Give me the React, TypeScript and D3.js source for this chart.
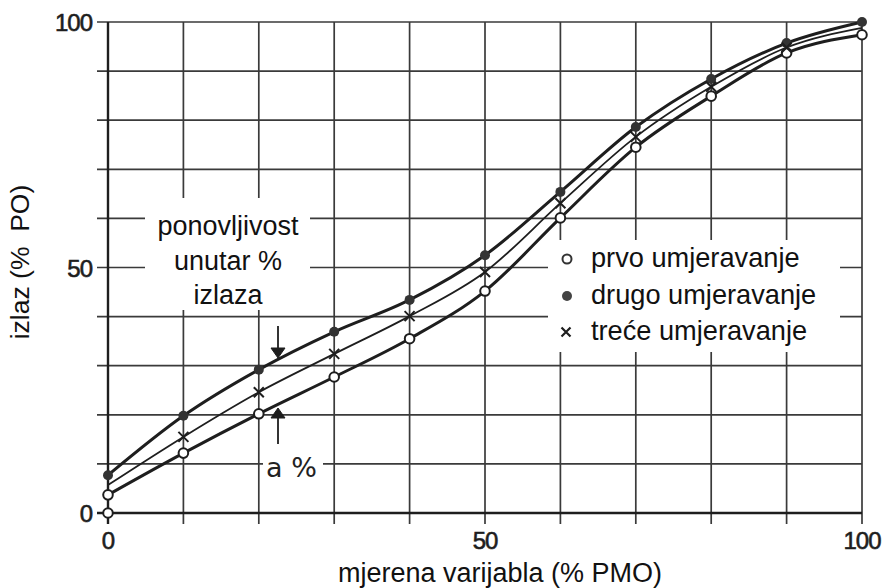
import React, { useEffect, useRef } from "react";
import * as d3 from "d3";

// measurement points (% PMO)
const xs = [0, 10, 20, 30, 40, 50, 60, 70, 80, 90, 100];
// izlaz (% PO) for each calibration run
const prvo = [3.7, 12.2, 20.2, 27.7, 35.5, 45.2, 60.1, 74.5, 84.9, 93.7, 97.4];
const drugo = [7.7, 19.8, 29.2, 36.9, 43.4, 52.5, 65.4, 78.6, 88.4, 95.7, 100];
const trece = [5.7, 15.5, 24.6, 32.4, 40.1, 49.1, 63.1, 76.6, 86.8, 94.8, 98.8];

const gridTicks = [0, 10, 20, 30, 40, 50, 60, 70, 80, 90, 100];
const labelTicks = [0, 50, 100];
const legendLabels = ["prvo umjeravanje", "drugo umjeravanje", "treće umjeravanje"];
const noteLines = ["ponovljivost", "unutar %", "izlaza"];

const FONT = "'Liberation Sans', Arial, sans-serif";
const INK = "#1e1e1e";

export default function App() {
  const ref = useRef<SVGSVGElement | null>(null);

  useEffect(() => {
    const node = ref.current;
    if (!node) return;
    const w = 886;
    const h = 588;
    const svg = d3.select(node);
    svg.attr("viewBox", `0 0 ${w} ${h}`).selectAll("*").remove();

    const x = d3.scaleLinear().domain([0, 100]).range([108, 862]);
    const y = d3.scaleLinear().domain([0, 100]).range([513, 22]);

    svg.append("rect").attr("width", w).attr("height", h).attr("fill", "#fff");

    // grid (lines poke out a bit past the frame, like tick marks)
    const grid = svg.append("g").attr("stroke", "#3a3a3a").attr("stroke-width", 1.7);
    grid.selectAll("line.v")
      .data(gridTicks)
      .enter()
      .append("line")
      .attr("class", "v")
      .attr("x1", d => x(d))
      .attr("x2", d => x(d))
      .attr("y1", y(100))
      .attr("y2", y(0) + 11);
    grid.selectAll("line.h")
      .data(gridTicks)
      .enter()
      .append("line")
      .attr("class", "h")
      .attr("x1", x(0) - 11)
      .attr("x2", x(100))
      .attr("y1", d => y(d))
      .attr("y2", d => y(d));

    // heavier frame on left and bottom
    svg.append("line")
      .attr("x1", x(0)).attr("x2", x(0)).attr("y1", y(100)).attr("y2", y(0) + 11)
      .attr("stroke", INK).attr("stroke-width", 2.4);
    svg.append("line")
      .attr("x1", x(0) - 11).attr("x2", x(100)).attr("y1", y(0)).attr("y2", y(0))
      .attr("stroke", INK).attr("stroke-width", 2.6);

    // white patches behind texts
    svg.append("rect").attr("x", 145).attr("y", 198).attr("width", 165).attr("height", 112).attr("fill", "#fff");
    svg.append("rect").attr("x", 548).attr("y", 240).attr("width", 292).attr("height", 112).attr("fill", "#fff");
    svg.append("rect").attr("x", 263).attr("y", 446).attr("width", 60).attr("height", 38).attr("fill", "#fff");

    // tick labels
    svg.selectAll("text.yt")
      .data(labelTicks)
      .enter()
      .append("text")
      .attr("class", "yt")
      .attr("x", 92)
      .attr("y", d => y(d) + 9)
      .attr("text-anchor", "end")
      .attr("font-family", FONT)
      .attr("font-size", 24)
      .attr("fill", INK)
      .attr("stroke", INK)
      .attr("stroke-width", 0.6)
      .attr("letter-spacing", -1)
      .text(d => d);
    svg.selectAll("text.xt")
      .data(labelTicks)
      .enter()
      .append("text")
      .attr("class", "xt")
      .attr("x", d => x(d))
      .attr("y", 549)
      .attr("text-anchor", "middle")
      .attr("font-family", FONT)
      .attr("font-size", 24)
      .attr("fill", INK)
      .attr("stroke", INK)
      .attr("stroke-width", 0.6)
      .attr("letter-spacing", -1)
      .text(d => d);

    // axis titles
    svg.append("text")
      .attr("x", 500)
      .attr("y", 582)
      .attr("text-anchor", "middle")
      .attr("font-family", FONT)
      .attr("font-size", 27)
      .attr("fill", "#111")
      .text("mjerena varijabla (% PMO)");
    svg.append("text")
      .attr("transform", `translate(29, 262) rotate(-90)`)
      .attr("text-anchor", "middle")
      .attr("font-family", FONT)
      .attr("font-size", 26.5)
      .attr("fill", "#111")
      .attr("xml:space", "preserve")
      .text("izlaz (%  PO)");

    // curves
    const line = d3.line<number>()
      .x((_, i) => x(xs[i]))
      .y(d => y(d))
      .curve(d3.curveMonotoneX);

    svg.append("path").attr("d", line(drugo)).attr("fill", "none").attr("stroke", INK).attr("stroke-width", 3);
    svg.append("path").attr("d", line(prvo)).attr("fill", "none").attr("stroke", INK).attr("stroke-width", 3);
    svg.append("path").attr("d", line(trece)).attr("fill", "none").attr("stroke", INK).attr("stroke-width", 1.8);

    // markers
    svg.selectAll("circle.prvo")
      .data(prvo)
      .enter()
      .append("circle")
      .attr("class", "prvo")
      .attr("cx", (_, i) => x(xs[i]))
      .attr("cy", d => y(d))
      .attr("r", 4.8)
      .attr("fill", "#fff")
      .attr("stroke", INK)
      .attr("stroke-width", 2);
    // open circle at the origin
    svg.append("circle")
      .attr("cx", x(0)).attr("cy", y(0)).attr("r", 4.8)
      .attr("fill", "#fff").attr("stroke", INK).attr("stroke-width", 2);

    svg.selectAll("circle.drugo")
      .data(drugo)
      .enter()
      .append("circle")
      .attr("class", "drugo")
      .attr("cx", (_, i) => x(xs[i]))
      .attr("cy", d => y(d))
      .attr("r", 5)
      .attr("fill", "#333");

    const cross = (g: d3.Selection<SVGGElement, unknown, null, undefined>, cx: number, cy: number, s: number, sw: number) => {
      g.append("path")
        .attr("d", `M${cx - s},${cy - s}L${cx + s},${cy + s}M${cx - s},${cy + s}L${cx + s},${cy - s}`)
        .attr("stroke", INK)
        .attr("stroke-width", sw)
        .attr("fill", "none");
    };
    const crosses = svg.append("g");
    trece.forEach((d, i) => {
      if (i === 0 || i === trece.length - 1) return;
      cross(crosses, x(xs[i]), y(d), 5, 2);
    });

    // repeatability note with arrows
    svg.selectAll("text.note")
      .data(noteLines)
      .enter()
      .append("text")
      .attr("class", "note")
      .attr("x", 228)
      .attr("y", (_, i) => 235 + i * 34.5)
      .attr("text-anchor", "middle")
      .attr("font-family", FONT)
      .attr("font-size", 27)
      .attr("fill", "#111")
      .text(d => d);

    const ax = 278;
    const arr = svg.append("g").attr("stroke", INK).attr("fill", INK);
    arr.append("line").attr("x1", ax).attr("x2", ax).attr("y1", 326).attr("y2", 349).attr("stroke-width", 1.8);
    arr.append("path").attr("d", `M${ax - 7},${348}L${ax + 7},${348}L${ax},${358}Z`).attr("stroke-width", 1);
    arr.append("line").attr("x1", ax).attr("x2", ax).attr("y1", 444).attr("y2", 418).attr("stroke-width", 1.8);
    arr.append("path").attr("d", `M${ax - 7},${418}L${ax + 7},${418}L${ax},${408}Z`).attr("stroke-width", 1);

    svg.append("text")
      .attr("x", 266)
      .attr("y", 477)
      .attr("font-family", "'DejaVu Sans', sans-serif")
      .attr("font-size", 27)
      .attr("fill", "#222")
      .text("a %");

    // legend
    const ly = [259, 296, 332];
    svg.append("circle").attr("cx", 567).attr("cy", ly[0]).attr("r", 4.5)
      .attr("fill", "#fff").attr("stroke", "#333").attr("stroke-width", 2);
    svg.append("circle").attr("cx", 567).attr("cy", ly[1]).attr("r", 5).attr("fill", "#444");
    cross(svg.append("g"), 566, ly[2], 4.5, 2.2);
    svg.selectAll("text.leg")
      .data(legendLabels)
      .enter()
      .append("text")
      .attr("class", "leg")
      .attr("x", 591)
      .attr("y", (_, i) => ly[i] + 8)
      .attr("font-family", FONT)
      .attr("font-size", 27.2)
      .attr("fill", "#111")
      .text(d => d);
  }, []);

  return (
    <svg
      ref={ref}
      width={886}
      height={588}
      style={{ position: "absolute", left: 0, top: 0, display: "block" }}
    />
  );
}
